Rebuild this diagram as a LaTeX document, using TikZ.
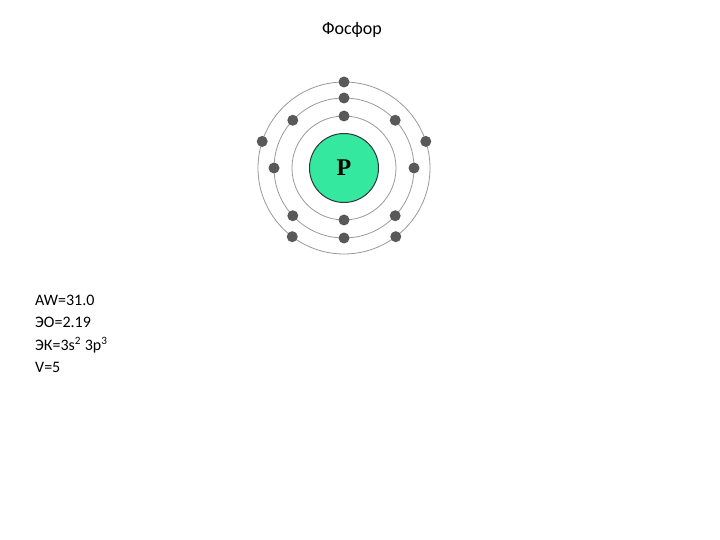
\documentclass[tikz,border=0pt]{standalone}
\usepackage{fontspec}
\setmainfont{Carlito}
\begin{document}
\begin{tikzpicture}[x=1pt,y=-1pt,
  ring/.style={draw=gray!80,line width=0.8pt},
  electron/.style={circle,fill=black!45!gray!90,minimum size=11pt,inner sep=0pt},
  lbl/.style={anchor=west,font=\fontsize{16}{19}\selectfont,inner sep=0pt}]
\useasboundingbox (0,0) rectangle (720,540);
\node (title) at (352,30) {\fontsize{18}{21}\selectfont Фосфор};
\coordinate (c) at (344,168);
\draw[ring] (c) circle (52);
\draw[ring] (c) circle (70);
\draw[ring] (c) circle (86);
\node[circle,draw=black!80,line width=1pt,fill=green!70!cyan!55!teal!30!white,minimum size=69pt,inner sep=0pt,
  fill={rgb,255:red,52;green,232;blue,160},font=\fontsize{24}{28}\selectfont\bfseries\rmfamily] (nuc) at (c) {\fontspec{Liberation Serif}P};
\foreach \a [count=\i] in {90,270} \node[electron] (e1\i) at ([shift={(\a:52)}]c) {};
\foreach \a [count=\i] in {90,137,43,180,0,223,317,270} \node[electron] (e2\i) at ([shift={(-\a:70)}]c) {};
\foreach \a [count=\i] in {90,162,18,233,307} \node[electron] (e3\i) at ([shift={(-\a:86)}]c) {};
\node[lbl] (t1) at (35,300) {AW=31.0};
\node[lbl] (t2) at (35,322) {ЭО=2.19};
\node[lbl] (t3) at (35,345) {ЭК=3s\textsuperscript{2} 3p\textsuperscript{3}};
\node[lbl] (t4) at (35,367) {V=5};
\end{tikzpicture}
\end{document}
